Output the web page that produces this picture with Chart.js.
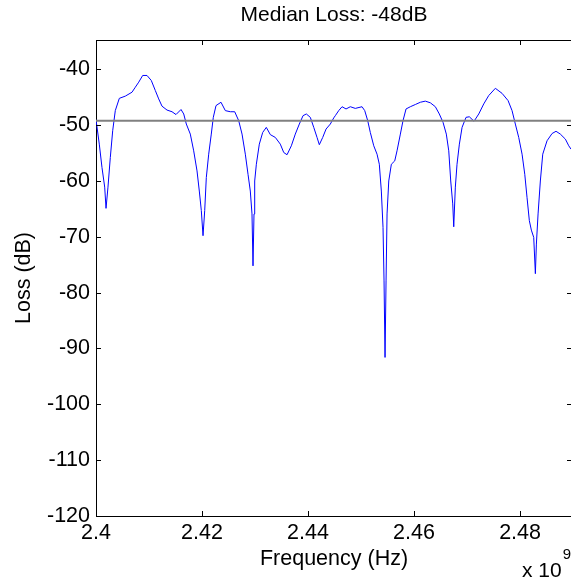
<!DOCTYPE html>
<html>
<head>
    <title>Median Loss</title>
    <style>
        html, body {
            margin: 0;
            padding: 0;
            overflow: hidden;
            background-color: white;
        }

        #chart-wrap {
            width: 580px;
            height: 582px;
        }
    </style>
    <script src="https://cdn.jsdelivr.net/npm/chart.js"></script>
</head>
<body>

    <div id="chart-wrap">
        <canvas id="loss-chart" width="580" height="582"></canvas>
    </div>

    <script>
        // Frequency in units of 1e9 Hz
        const freqGHz = [
            2.40000, 2.40062, 2.40113, 2.40164, 2.40189, 2.40226, 2.40270, 2.40315, 2.40364, 2.40440,
            2.40553, 2.40679, 2.40742, 2.40806, 2.40881, 2.40962, 2.41043, 2.41119, 2.41183, 2.41245,
            2.41340, 2.41434, 2.41509, 2.41604, 2.41655, 2.41704, 2.41779, 2.41843, 2.41906, 2.41949,
            2.41987, 2.42019, 2.42051, 2.42081, 2.42126, 2.42175, 2.42213, 2.42264, 2.42358, 2.42440,
            2.42534, 2.42617, 2.42692, 2.42755, 2.42817, 2.42868, 2.42911, 2.42943, 2.42962, 2.42981,
            2.42994, 2.43025, 2.43081, 2.43145, 2.43213, 2.43289, 2.43383, 2.43477, 2.43542, 2.43604,
            2.43685, 2.43760, 2.43836, 2.43906, 2.43968, 2.44043, 2.44108, 2.44170, 2.44213, 2.44277,
            2.44340, 2.44421, 2.44485, 2.44515, 2.44579, 2.44642, 2.44717, 2.44798, 2.44892, 2.45019,
            2.45070, 2.45126, 2.45175, 2.45240, 2.45302, 2.45345, 2.45383, 2.45415, 2.45434, 2.45453,
            2.45472, 2.45491, 2.45523, 2.45572, 2.45636, 2.45679, 2.45742, 2.45792, 2.45849, 2.45930,
            2.46025, 2.46119, 2.46213, 2.46308, 2.46402, 2.46477, 2.46547, 2.46609, 2.46655, 2.46692,
            2.46730, 2.46749, 2.46779, 2.46811, 2.46855, 2.46906, 2.46981, 2.47043, 2.47132, 2.47221,
            2.47315, 2.47409, 2.47534, 2.47660, 2.47774, 2.47849, 2.47911, 2.47975, 2.48038, 2.48089,
            2.48132, 2.48175, 2.48213, 2.48258, 2.48289, 2.48308, 2.48340, 2.48383, 2.48428, 2.48509,
            2.48604, 2.48679, 2.48760, 2.48855, 2.48919, 2.48962
        ];

        // Loss in dB for each frequency above
        const lossDb = [
            -49.0, -53.4, -57.6, -61.1, -64.9, -61.1, -55.8, -51.0, -47.4, -45.2,
            -44.8, -44.1, -43.2, -42.3, -41.1, -41.1, -42.0, -43.8, -45.3, -46.6,
            -47.3, -47.6, -48.1, -47.2, -48.0, -49.8, -51.6, -54.6, -58.2, -61.8,
            -65.3, -69.8, -65.3, -59.4, -55.2, -51.6, -48.6, -46.5, -45.9, -47.4,
            -47.6, -47.6, -49.2, -51.6, -55.2, -58.8, -61.8, -65.9, -75.2, -65.9,
            -60.0, -57.0, -53.4, -51.3, -50.4, -51.7, -52.2, -53.4, -54.9, -55.3,
            -53.7, -51.6, -49.8, -48.3, -48.0, -48.6, -50.4, -52.2, -53.5, -52.2,
            -50.7, -49.8, -48.7, -48.3, -47.4, -46.7, -47.1, -46.7, -47.0, -46.7,
            -47.4, -49.2, -51.3, -53.7, -55.2, -57.0, -61.8, -68.3, -77.9, -91.6,
            -77.9, -65.9, -60.0, -57.0, -56.4, -54.6, -51.6, -49.2, -47.1, -46.7,
            -46.3, -45.9, -45.7, -46.0, -46.7, -48.0, -49.5, -51.6, -54.6, -60.0,
            -64.1, -68.2, -61.1, -57.0, -53.4, -50.4, -48.6, -48.5, -49.3, -48.0,
            -46.2, -44.7, -43.4, -44.3, -45.6, -47.4, -49.8, -52.2, -55.2, -58.8,
            -63.0, -67.1, -68.8, -70.1, -76.6, -71.3, -65.9, -60.0, -55.2, -52.8,
            -51.5, -51.1, -51.6, -52.5, -53.7, -54.3
        ];

        const medianLine = -49.2; // grey reference line
        const xRange = [2.4, 2.4898];
        const yRange = [-120, -34.75];
        const xTickValues = [2.4, 2.42, 2.44, 2.46, 2.48];
        const yTickValues = [-120, -110, -100, -90, -80, -70, -60, -50, -40];

        const FONT = 'Liberation Sans, Arial, Helvetica, sans-serif';

        // MATLAB style box: inward ticks on all four sides plus top border
        const boxTicks = {
            id: 'boxTicks',
            afterDatasetsDraw(chart) {
                const {ctx, chartArea, scales} = chart;
                const len = 5;
                ctx.save();
                ctx.strokeStyle = '#000';
                ctx.lineWidth = 1;
                ctx.beginPath();
                ctx.moveTo(chartArea.left, chartArea.top + 0.5);
                ctx.lineTo(chartArea.right, chartArea.top + 0.5);
                scales.x.ticks.forEach(t => {
                    const px = Math.round(scales.x.getPixelForValue(t.value)) + 0.5;
                    ctx.moveTo(px, chartArea.bottom);
                    ctx.lineTo(px, chartArea.bottom - len);
                    ctx.moveTo(px, chartArea.top);
                    ctx.lineTo(px, chartArea.top + len);
                });
                scales.y.ticks.forEach(t => {
                    const py = Math.round(scales.y.getPixelForValue(t.value)) + 0.5;
                    ctx.moveTo(chartArea.left, py);
                    ctx.lineTo(chartArea.left + len, py);
                    ctx.moveTo(chartArea.right, py);
                    ctx.lineTo(chartArea.right - len, py);
                });
                ctx.stroke();
                ctx.restore();
            }
        };

        // the "x 10^9" exponent label under the x axis
        const exponentLabel = {
            id: 'exponentLabel',
            afterDraw(chart) {
                const {ctx} = chart;
                ctx.save();
                ctx.fillStyle = '#000';
                ctx.textAlign = 'left';
                ctx.textBaseline = 'alphabetic';
                ctx.font = '21px ' + FONT;
                ctx.fillText('x 10', 522, 577);
                const w = ctx.measureText('x 10').width;
                ctx.font = '15px ' + FONT;
                ctx.fillText('9', 522 + w + 1, 559);
                ctx.restore();
            }
        };

        const ctx = document.getElementById('loss-chart').getContext('2d');
        const lossChart = new Chart(ctx, {
            type: 'line',
            data: {
                datasets: [
                    {
                        label: 'Median',
                        data: [{x: xRange[0], y: medianLine}, {x: xRange[1], y: medianLine}],
                        borderColor: 'rgb(128, 128, 128)',
                        borderWidth: 2,
                        pointRadius: 0,
                        fill: false,
                    },
                    {
                        label: 'Loss',
                        data: freqGHz.map((f, i) => ({x: f, y: lossDb[i]})),
                        borderColor: 'rgb(0, 0, 255)',
                        borderWidth: 1,
                        pointRadius: 0,
                        tension: 0,
                        fill: false,
                    }
                ]
            },
            options: {
                responsive: false,
                animation: false,
                layout: {
                    padding: {left: 0, right: 8, top: 0, bottom: 0}
                },
                plugins: {
                    legend: {display: false},
                    tooltip: {enabled: false},
                    title: {
                        display: true,
                        text: 'Median Loss: -48dB',
                        fullSize: false,
                        color: '#000',
                        font: {family: FONT, size: 21, weight: 'normal', lineHeight: 1.2},
                        padding: {top: 2.9, bottom: 11.9}
                    }
                },
                scales: {
                    x: {
                        type: 'linear',
                        min: xRange[0],
                        max: xRange[1],
                        afterBuildTicks: scale => {
                            scale.ticks = xTickValues.map(v => ({value: v}));
                        },
                        afterFit: scale => {
                            scale.height = 66;
                        },
                        grid: {display: false, drawTicks: false},
                        border: {display: true, color: '#000', width: 1},
                        ticks: {
                            color: '#000',
                            padding: 4,
                            maxRotation: 0,
                            autoSkip: false,
                            font: {family: FONT, size: 21.5},
                            callback: v => parseFloat(v.toFixed(2)).toString()
                        },
                        title: {
                            display: true,
                            text: 'Frequency (Hz)',
                            color: '#000',
                            font: {family: FONT, size: 21.5, lineHeight: 1.2},
                            padding: {top: 0, bottom: 10}
                        }
                    },
                    y: {
                        type: 'linear',
                        min: yRange[0],
                        max: yRange[1],
                        afterBuildTicks: scale => {
                            scale.ticks = yTickValues.map(v => ({value: v}));
                        },
                        afterFit: scale => {
                            scale.width = 96;
                        },
                        grid: {display: false, drawTicks: false},
                        border: {display: true, color: '#000', width: 1},
                        ticks: {
                            color: '#000',
                            padding: 6,
                            autoSkip: false,
                            font: {family: FONT, size: 21.5},
                            callback: v => v.toString()
                        },
                        title: {
                            display: true,
                            text: 'Loss (dB)',
                            color: '#000',
                            font: {family: FONT, size: 21.5, lineHeight: 1.2},
                            padding: {top: 11, bottom: 0}
                        }
                    }
                }
            },
            plugins: [boxTicks, exponentLabel]
        });
    </script>
</body>
</html>
